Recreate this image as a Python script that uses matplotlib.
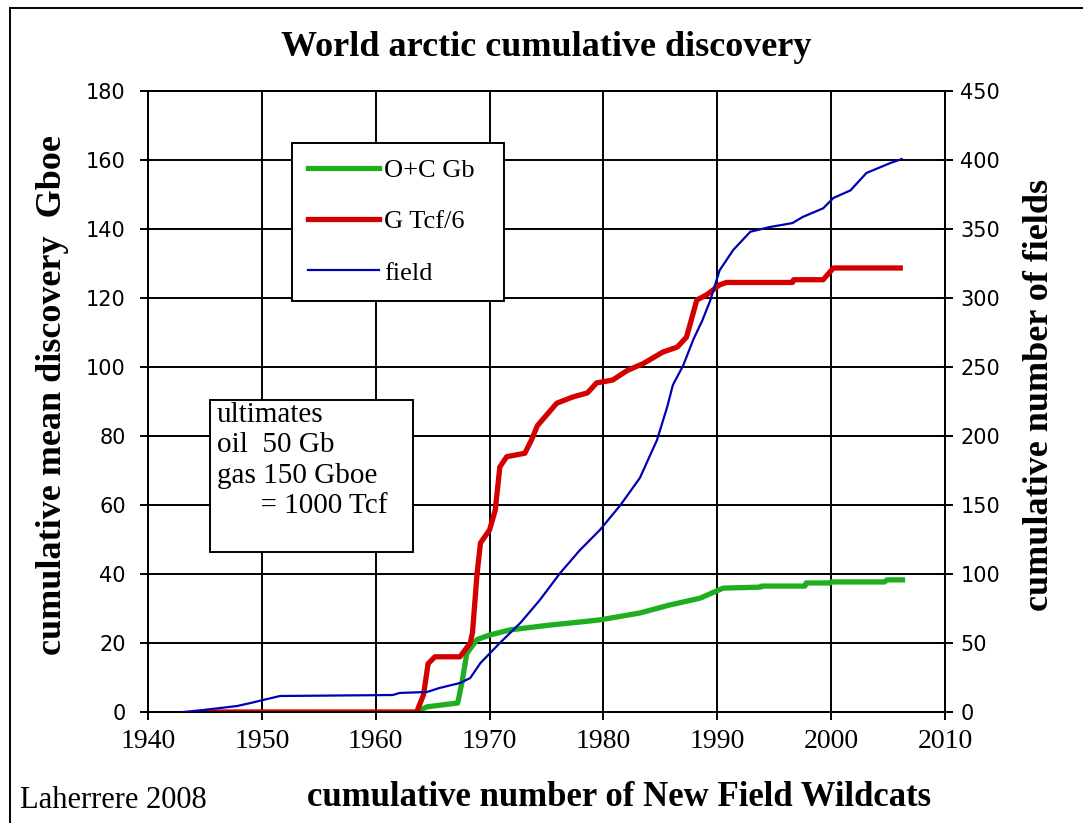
import matplotlib
matplotlib.use("Agg")
import matplotlib.pyplot as plt
from matplotlib.patches import Rectangle
from matplotlib.lines import Line2D

# ---- data ----
gas_years = [1945, 1963.6, 1964.2, 1964.6, 1965.2, 1967.4, 1968.3, 1968.5, 1968.9, 1969.2,
             1970.0, 1970.5, 1970.9, 1971.5, 1973.1, 1973.7, 1974.2, 1975.9, 1977.3, 1978.6,
             1979.4, 1980.8, 1982.1, 1983.5, 1985.2, 1986.5, 1987.3, 1988.2, 1989.1, 1990.2,
             1990.8, 1996.6, 1996.7, 1999.3, 2000.2, 2006.3]
gas_values = [0, 0, 5, 14, 16, 16, 20, 23, 40, 49,
              52.8, 58.5, 71, 74, 75, 79, 83, 89.5, 91.3, 92.5,
              95.4, 96.2, 99, 101, 104.3, 105.8, 108.7, 119.4, 121, 123.8,
              124.5, 124.5, 125.3, 125.3, 128.7, 128.7]

oil_years = [1963.6, 1964.5, 1967.2, 1967.6, 1968.0, 1968.9, 1970.0, 1971.8, 1975.3, 1977.7,
             1979.7, 1983.2, 1985.8, 1988.5, 1990.5, 1993.8, 1993.9, 1997.7, 1997.8, 1999.9,
             2000.0, 2004.7, 2004.9, 2006.5]
oil_values = [0, 1.5, 2.6, 9, 17, 21, 22.3, 23.8, 25.2, 26,
              26.7, 28.7, 31, 33, 35.9, 36.2, 36.5, 36.5, 37.4, 37.4,
              37.7, 37.7, 38.3, 38.3]

field_years = [1943.1, 1944.8, 1947.8, 1949.0, 1950.1, 1951.6, 1961.5, 1962.1, 1964.5, 1965.6,
               1967.4, 1968.3, 1969.2, 1970.9, 1972.7, 1974.4, 1976.2, 1977.9, 1979.7, 1981.5,
               1983.2, 1984.7, 1985.6, 1986.1, 1987.0, 1987.9, 1988.7, 1989.4, 1990.2, 1991.4,
               1992.9, 1994.6, 1996.6, 1997.5, 1999.3, 2000.2, 2001.7, 2003.1, 2005.2, 2006.2]
field_counts = [0, 1.4, 4.3, 6.5, 8.7, 11.6, 12.3, 13.8, 14.5, 17.4,
                21, 24.6, 35.5, 50, 64.5, 81, 100.7, 117, 132, 150,
                169.6, 197, 221, 237, 251, 270, 284, 298.6, 320, 334.8,
                348, 351.4, 354.3, 358.7, 365, 372.5, 378, 390.6, 397.8, 400.7]

x_ticks = [1940, 1950, 1960, 1970, 1980, 1990, 2000, 2010]
left_ticks = [0, 20, 40, 60, 80, 100, 120, 140, 160, 180]
right_ticks = [0, 50, 100, 150, 200, 250, 300, 350, 400, 450]

GREEN = "#1fae1f"
RED = "#d40000"
BLUE = "#0000b4"

W, H = 1083, 823
fig = plt.figure(figsize=(W / 100, H / 100), dpi=100)

def fx(px):
    return px / W

def fy(py):
    return 1 - py / H

ax = fig.add_axes([fx(148), fy(712), fx(945) - fx(148), fy(91) - fy(712)])
ax2 = ax.twinx()

ax.set_xlim(1940, 2010)
ax.set_ylim(0, 180)
ax2.set_ylim(0, 450)

ax.set_xticks(x_ticks)
ax.set_yticks(left_ticks)
ax2.set_yticks(right_ticks)

ax.grid(True, color="black", linewidth=1.4)
ax.set_axisbelow(True)

for a in (ax, ax2):
    for s in a.spines.values():
        s.set_linewidth(1.4)
        s.set_color("black")

ax.plot(oil_years, oil_values, color=GREEN, linewidth=3.8, solid_capstyle="butt", zorder=3)
ax.plot(gas_years, gas_values, color=RED, linewidth=3.8, solid_capstyle="butt", zorder=4)
ax2.plot(field_years, field_counts, color=BLUE, linewidth=1.6, zorder=5)

sans = ["DejaVu Sans"]
serif = ["Liberation Serif", "DejaVu Serif"]

ax.tick_params(axis="y", direction="out", length=6, width=1.4, labelsize=15, pad=10)
for lab in ax.get_yticklabels():
    lab.set_family(sans)
ax2.tick_params(axis="y", direction="inout", length=12, width=1.4, labelsize=15, pad=5)
for lab in ax2.get_yticklabels():
    lab.set_family(sans)
ax.tick_params(axis="x", direction="inout", length=12, width=1.4, labelsize=20, pad=6)
for lab in ax.get_xticklabels():
    lab.set_family(serif)

# titles and labels
fig.text(fx(546), fy(48), "World arctic cumulative discovery", ha="center", va="center",
         family=serif, fontweight="bold", fontsize=26)
fig.text(fx(619), fy(797), "cumulative number of New Field Wildcats", ha="center", va="center",
         family=serif, fontweight="bold", fontsize=25)
fig.text(fx(20), fy(800), "Laherrere 2008", ha="left", va="center",
         family=serif, fontsize=22)
fig.text(fx(53), fy(395), "cumulative mean discovery  Gboe", ha="center", va="center",
         rotation=90, family=serif, fontweight="bold", fontsize=26)
fig.text(fx(1040), fy(395), "cumulative number of fields", ha="center", va="center",
         rotation=90, family=serif, fontweight="bold", fontsize=26)

# legend
handles = [Line2D([], [], color=GREEN, linewidth=3.8),
           Line2D([], [], color=RED, linewidth=3.8),
           Line2D([], [], color=BLUE, linewidth=1.6)]
labels = ["O+C Gb  ", "G Tcf/6  ", "field"]
leg = ax2.legend(handles, labels, loc="upper left",
                 bbox_to_anchor=(fx(292), fy(143)), bbox_transform=fig.transFigure,
                 borderaxespad=0, fancybox=False, edgecolor="black", framealpha=1,
                 prop={"family": serif, "size": 19}, handlelength=2.7, handletextpad=0.2,
                 labelspacing=1.05, borderpad=0.6)
leg.get_frame().set_linewidth(1.4)
leg.set_zorder(10)

# ultimates box
box = Rectangle((fx(210), fy(552)), fx(413) - fx(210), fy(400) - fy(552),
                transform=fig.transFigure, facecolor="white", edgecolor="black",
                linewidth=1.4, zorder=10)
fig.patches.append(box)
fig.text(fx(217), fy(402), "ultimates\noil  50 Gb\ngas 150 Gboe\n      = 1000 Tcf",
         ha="left", va="top", family=serif, fontsize=21, linespacing=1.22, zorder=11)

# outer frame
fig.add_artist(Line2D([fx(10), fx(10)], [fy(8), fy(823)], transform=fig.transFigure,
                      color="black", linewidth=1.4))
fig.add_artist(Line2D([fx(10), fx(1083)], [fy(8), fy(8)], transform=fig.transFigure,
                      color="black", linewidth=1.4))

fig.savefig("out.png", dpi=100)
